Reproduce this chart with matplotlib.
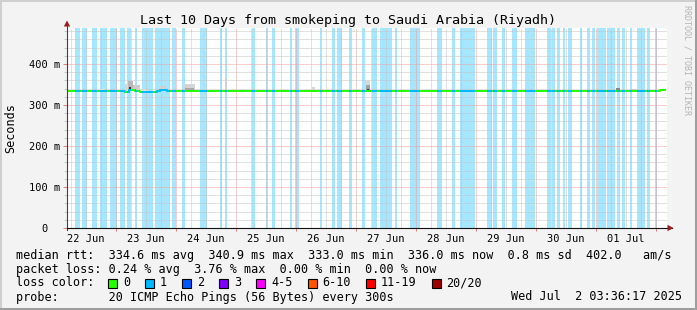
import matplotlib
matplotlib.use('Agg')
import matplotlib.pyplot as plt
from matplotlib.path import Path
from matplotlib.patches import Rectangle, Polygon
from matplotlib.ticker import MultipleLocator, FixedLocator, FuncFormatter, NullFormatter

plt.rcParams['font.family'] = ['DejaVu Sans Mono']

# time axis in hours since 22 Jun 00:00
t_start, t_end = 4.4, 244.4

# periods with 1 lost ping out of 20 (hours)
loss_start = [7.6, 10.4, 14.4, 17.6, 21.6, 25.6, 28.4, 31.6, 34.4, 39.6, 46.4, 50.4,
              57.6, 65.6, 67.6, 78.4, 84.0, 86.4, 93.6, 95.6, 105.6, 110.4, 112.4,
              117.2, 122.4, 126.4, 129.6, 135.6, 141.6, 152.4, 158.4, 161.6, 172.4,
              174.8, 178.4, 182.4, 187.6, 196.4, 198.4, 200.4, 202.8, 204.8, 209.6,
              212.4, 214.4, 216.4, 220.4, 224.4, 226.4, 229.6, 232.4, 236.4, 239.6]
loss_end = [9.6, 12.4, 16.4, 20.4, 24.4, 27.6, 30.0, 32.4, 38.8, 45.6, 48.0, 51.6,
            60.4, 66.4, 68.4, 79.6, 84.8, 87.6, 94.4, 97.2, 106.4, 111.6, 114.4,
            118.4, 123.6, 128.4, 134.4, 136.4, 145.6, 154.4, 159.6, 167.6, 174.4,
            176.4, 179.6, 184.4, 191.6, 198.0, 199.6, 201.6, 203.6, 206.4, 210.4,
            213.6, 215.6, 220.0, 223.6, 225.6, 227.6, 230.4, 235.6, 237.6, 240.4]

# median rtt (ms), step series
med_t = [4.4, 27.6, 29.2, 31.6, 33.6, 40.4, 41.6, 44.4, 224.0, 225.6, 232.4, 236.4, 241.6, 243.6]
med_v = [334.6, 333.0, 337.0, 335.0, 333.0, 334.5, 337.5, 334.6, 335.5, 334.6, 333.2, 334.6, 336.0, 336.0]

# smoke (ping spread) patches
smoke_t0 = [17.6, 27.6, 28.8, 29.2, 30.8, 34.4, 41.6, 51.2, 51.6, 64.4, 67.6, 73.6,
            102.4, 123.6, 123.8, 124.4, 224.0, 230.4]
smoke_t1 = [19.6, 29.2, 30.8, 30.0, 33.6, 36.0, 44.0, 55.6, 55.2, 65.6, 68.4, 74.8,
            103.6, 125.6, 125.4, 125.0, 225.6, 232.4]
smoke_lo = [336, 333, 334, 336, 334, 333, 337, 336, 336, 336, 336, 336,
            336, 336, 336, 337, 336, 335]
smoke_hi = [338, 352, 358, 343, 349, 338, 346, 352, 342, 340, 365, 339,
            344, 361, 348, 340, 342, 339]
smoke_gray = ['#e4e4e4', '#d9d9d9', '#b8b8b8', '#303030', '#cccccc', '#dddddd',
              '#d0d0d0', '#d4d4d4', '#a8a8a8', '#dddddd', '#cfcfcf', '#dddddd',
              '#d6d6d6', '#d8d8d8', '#a0a0a0', '#404040', '#888888', '#cccccc']

day_labels = ['22 Jun', '23 Jun', '24 Jun', '25 Jun', '26 Jun',
              '27 Jun', '28 Jun', '29 Jun', '30 Jun', '01 Jul']
y_ticks = [0, 100, 200, 300, 400]
y_labels = ['0', '100 m', '200 m', '300 m', '400 m']

loss_labels = ['0', '1', '2', '3', '4-5', '6-10', '11-19', '20/20']
loss_colors = ['#26ff00', '#00b8ff', '#0059ff', '#7e00ff', '#ff00ff', '#ff5500', '#ff0000', '#a00000']

rtt_avg, rtt_max, rtt_min, rtt_now, rtt_sd, am_s = 334.6, 340.9, 333.0, 336.0, 0.8, 402.0
loss_avg, loss_max, loss_min, loss_now = 0.24, 3.76, 0.00, 0.00

W, H = 697, 310
fig = plt.figure(figsize=(W / 100, H / 100), dpi=100, facecolor='#f3f3f3')

def fx(x):
    return x / W

def fy(y):
    return 1 - y / H

ax = fig.add_axes([fx(67), fy(228), 600 / W, 200 / H])
ax.set_facecolor('white')
ax.set_xlim(t_start, t_end)
ax.set_ylim(0, 488)
for sp in ax.spines.values():
    sp.set_visible(False)

# loss background
for s, e in zip(loss_start, loss_end):
    ax.axvspan(s, e, color='#a6e6ff', lw=0, zorder=0.5)

# grid
ax.set_axisbelow('line')
ax.xaxis.set_major_locator(MultipleLocator(24))
ax.xaxis.set_minor_locator(MultipleLocator(6))
ax.xaxis.set_major_formatter(NullFormatter())

def day_fmt(v, pos):
    k = int(round((v - 12) / 24))
    if abs(v - (12 + 24 * k)) < 1e-6 and 0 <= k < len(day_labels):
        return day_labels[k]
    return ''

ax.xaxis.set_minor_formatter(FuncFormatter(day_fmt))
ax.yaxis.set_major_locator(FixedLocator(y_ticks))
ax.yaxis.set_minor_locator(MultipleLocator(20))
ax.set_yticklabels(y_labels)
ax.grid(which='major', color='#f0a0a0', linestyle=(0, (1, 1)), lw=0.72)
ax.grid(which='minor', color='#c4c4c4', linestyle=(0, (1, 1)), lw=0.72)
ax.tick_params(axis='x', which='major', length=2.2, width=0.72, color='#e08080')
ax.tick_params(axis='x', which='minor', length=0, pad=4.2, labelsize=7.5)
ax.tick_params(axis='y', which='major', length=2.9, width=0.72, color='#e08080', pad=2.1, labelsize=7.5)
ax.tick_params(axis='y', which='minor', length=2.2, width=0.72, color='#c8c8c8')
ax.yaxis.get_major_ticks()[0].label1.set_x(-0.02)

# smoke
for t0, t1, lo, hi, g in zip(smoke_t0, smoke_t1, smoke_lo, smoke_hi, smoke_gray):
    ax.bar(t0, hi - lo, width=t1 - t0, bottom=lo, align='edge', color=g, lw=0, zorder=2)

# median line: green, blue where a ping was lost
ax.step(med_t, med_v, where='post', color='#26ff00', lw=1.44, zorder=3)
verts, codes = [], []
for s, e in zip(loss_start, loss_end):
    verts += [(s, 0), (e, 0), (e, 500), (s, 500), (s, 0)]
    codes += [Path.MOVETO, Path.LINETO, Path.LINETO, Path.LINETO, Path.CLOSEPOLY]
blue, = ax.step(med_t, med_v, where='post', color='#00b8ff', lw=1.44, zorder=3.1)
blue.set_clip_path(Path(verts, codes), ax.transData)

# axes lines and arrows
ax.plot([0, 0], [-0.01, 1.01], transform=ax.transAxes, color='#404040', lw=0.8, clip_on=False, zorder=5)
ax.plot([0, 1.008], [0, 0], transform=ax.transAxes, color='#101010', lw=0.8, clip_on=False, zorder=5)
fig.add_artist(Polygon([(fx(67), fy(20.5)), (fx(63.8), fy(26.5)), (fx(70.2), fy(26.5))],
                       closed=True, color='#961e1e', lw=0, transform=fig.transFigure))
fig.add_artist(Polygon([(fx(673.5), fy(228)), (fx(667.5), fy(224.8)), (fx(667.5), fy(231.2))],
                       closed=True, color='#961e1e', lw=0, transform=fig.transFigure))

# texts
mono = 8.5
fig.text(fx(348), fy(24), 'Last 10 Days from smokeping to Saudi Arabia (Riyadh)',
         ha='center', va='baseline', fontsize=9.6)
fig.text(fx(11), fy(128), 'Seconds', rotation=90, ha='center', va='center', fontsize=mono)
fig.text(fx(687.5), fy(5), 'RRDTOOL / TOBI OETIKER', rotation=270, ha='center', va='top',
         fontsize=6, color='#b4b4b4')

line1 = (f'median rtt:  {rtt_avg:.1f} ms avg  {rtt_max:.1f} ms max  {rtt_min:.1f} ms min  '
         f'{rtt_now:.1f} ms now  {rtt_sd:.1f} ms sd  {am_s:.1f}   am/s')
line2 = (f'packet loss: {loss_avg:.2f} % avg  {loss_max:.2f} % max  '
         f'{loss_min:.2f} % min  {loss_now:.2f} % now')
line4 = 'probe:       20 ICMP Echo Pings (56 Bytes) every 300s'
fig.text(fx(16), fy(258.5), line1, ha='left', va='baseline', fontsize=mono)
fig.text(fx(16), fy(272.5), line2, ha='left', va='baseline', fontsize=mono)
fig.text(fx(16), fy(286.5), 'loss color:', ha='left', va='baseline', fontsize=mono)
fig.text(fx(16), fy(300.5), line4, ha='left', va='baseline', fontsize=mono)
fig.text(fx(682), fy(300.5), 'Wed Jul  2 03:36:17 2025', ha='right', va='baseline', fontsize=mono)

char_w = 7.1
bx = 108
for lab, col in zip(loss_labels, loss_colors):
    fig.add_artist(Rectangle((fx(bx), fy(287.5)), 9 / W, 9 / H, facecolor=col, edgecolor='black',
                             lw=0.8, transform=fig.transFigure))
    fig.text(fx(bx + 15), fy(286.5), lab, ha='left', va='baseline', fontsize=mono)
    bx = bx + 15 + len(lab) * char_w + 15

# outer frame
fig.add_artist(Rectangle((0, fy(2)), 1, 2 / H, color='#cfcfcf', lw=0, transform=fig.transFigure))
fig.add_artist(Rectangle((0, 0), 2 / W, 1, color='#cfcfcf', lw=0, transform=fig.transFigure))
fig.add_artist(Rectangle((0, 0), 1, 2 / H, color='#9e9e9e', lw=0, transform=fig.transFigure))
fig.add_artist(Rectangle((fx(695), 0), 2 / W, 1, color='#9e9e9e', lw=0, transform=fig.transFigure))

fig.savefig('out.png', dpi=100, facecolor=fig.get_facecolor())
